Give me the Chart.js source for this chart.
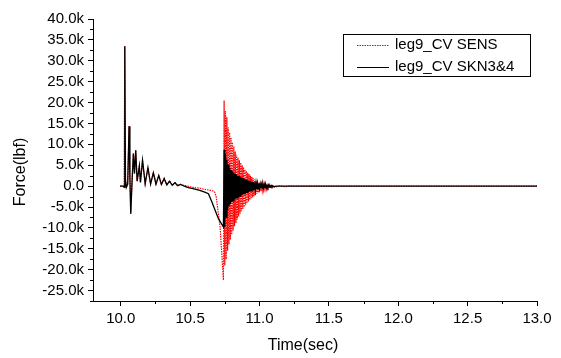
<!DOCTYPE html>
<html>
<head>
<meta charset="utf-8">
<script src="https://cdn.jsdelivr.net/npm/chart.js@4.4.1/dist/chart.umd.min.js"></script>
<style>
  html, body { margin: 0; padding: 0; background: #fff; }
  #wrap { width: 561px; height: 358px; }
</style>
</head>
<body>
<div id="wrap"><canvas id="c" width="561" height="358"></canvas></div>
<script>
// ---- data (Force in lbf, Time in sec) ----
const earlyTime  = [9.995, 10.020, 10.024, 10.029, 10.034, 10.040, 10.050, 10.060, 10.066, 10.072, 10.082, 10.091, 10.099, 10.108, 10.118, 10.134, 10.142, 10.157, 10.176, 10.196, 10.215, 10.235, 10.254, 10.274, 10.293, 10.313, 10.332, 10.352, 10.371, 10.391, 10.410, 10.430];
const earlyForce = [0, 0, -300, 33500, 1500, -300, 500, 14300, 2000, -6600, 1500, 7800, 3000, 8600, 1200, 4800, 900, 6200, 600, 4400, 500, 3200, 500, 2500, 400, 1800, 300, 1200, 200, 800, 100, 400];

const senseLateTime  = [10.45, 10.48, 10.52, 10.57, 10.61, 10.645, 10.668, 10.678, 10.688, 10.716, 10.740];
const senseLateForce = [200, 0, -300, -500, -800, -1000, -1200, -1500, -2600, -9800, -22500];
const skinLateTime   = [10.45, 10.48, 10.52, 10.57, 10.61, 10.632, 10.657, 10.68, 10.704, 10.740];
const skinLateForce  = [100, -300, -600, -1000, -1500, -1800, -3800, -5800, -7800, -9800];

const ringTime = [10.745,10.750,10.755,10.760,10.765,10.770,10.775,10.780,10.785,10.790,10.795,
  10.800,10.805,10.810,10.815,10.820,10.825,10.830,10.835,10.840,10.845,10.850,10.855,10.860,10.865,10.870,10.875,10.880,10.885,10.890,10.895,
  10.900,10.905,10.910,10.915,10.920,10.925,10.930,10.935,10.940,10.945,10.950,10.955,10.960,10.965,10.970,10.975,10.980,10.985,10.990,10.995,
  11.000,11.005,11.010,11.015,11.020,11.025,11.030,11.035,11.040,11.045,11.050,11.055,11.060,11.065,11.070,11.075,11.080,11.085,11.090,11.095,
  11.100];
const senseRing = [20500,-19000,18000,-17500,16500,-15500,14000,-14000,12800,-12800,11500,-11600,10500,-10600,9500,-9600,
  8300,-8800,7500,-8000,6800,-7300,6200,-6600,5600,-6000,5000,-5500,4500,-5000,4000,-4600,3600,-4100,3200,-3700,
  2900,-3300,2500,-3000,2200,-2700,1900,-2400,1600,-2100,1300,-1800,1100,-1600,900,-1400,800,-1200,600,-1000,
  500,-900,400,-800,300,-700,250,-600,200,-500,150,-400,100,-350,50,-300];
const skinRing = [8700,-9800,7600,-7400,6300,-5800,5200,-4900,4400,-4300,3900,-3800,3500,-3500,3200,-3200,
  2900,-3000,2700,-2800,2500,-2600,2400,-2400,2200,-2200,2000,-2000,1850,-1850,1700,-1700,1550,-1550,1400,-1400,
  1300,-1300,1150,-1150,1050,-1050,950,-950,850,-850,750,-750,650,-650,600,-600,500,-520,450,-460,
  380,-400,330,-350,280,-300,230,-250,190,-210,150,-170,120,-130,90,-100];

const tailTime       = [11.12, 11.15, 11.18, 11.22, 11.25, 13.0];
const senseTailForce = [-200, 100, -150, 50, 0, 0];
const skinTailForce  = [0, 0, 0, 0, 0, 0];

const xMajorTicks = [10.0, 10.5, 11.0, 11.5, 12.0, 12.5, 13.0];
const xMinorTicks = [10.25, 10.75, 11.25, 11.75, 12.25, 12.75];
const yMajorTicks = [-25000, -20000, -15000, -10000, -5000, 0, 5000, 10000, 15000, 20000, 25000, 30000, 35000, 40000];
const yMinorTicks = [-27500, -22500, -17500, -12500, -7500, -2500, 2500, 7500, 12500, 17500, 22500, 27500, 32500, 37500];

const seriesNames = ['leg9_CV SENS', 'leg9_CV SKN3&4'];
const xTitle = 'Time(sec)';
const yTitle = 'Force(lbf)';

// ---- build points ----
function pts(t, v) { return t.map((x, i) => ({ x: x, y: v[i] })); }
const sensePts = [].concat(pts(earlyTime, earlyForce), pts(senseLateTime, senseLateForce), pts(ringTime, senseRing), pts(tailTime, senseTailForce));
const skinPts  = [].concat(pts(earlyTime, earlyForce), pts(skinLateTime, skinLateForce), pts(ringTime, skinRing), pts(tailTime, skinTailForce));

const FONT = '"Liberation Sans", Arial, sans-serif';

function fmtK(v) {
  if (v === 0) return '0.0';
  return (v / 1000).toFixed(1) + 'k';
}

const decor = {
  id: 'decor',
  afterDraw(chart) {
    const ctx = chart.ctx;
    const xs = chart.scales.x, ys = chart.scales.y;
    const a = chart.chartArea;
    ctx.save();
    ctx.strokeStyle = '#000';
    ctx.lineWidth = 1;
    // minor ticks
    ctx.beginPath();
    xMinorTicks.forEach(v => {
      const px = Math.round(xs.getPixelForValue(v)) + 0.5;
      ctx.moveTo(px, a.bottom); ctx.lineTo(px, a.bottom + 3);
    });
    yMinorTicks.forEach(v => {
      const py = Math.round(ys.getPixelForValue(v)) + 0.5;
      ctx.moveTo(a.left, py); ctx.lineTo(a.left - 3, py);
    });
    ctx.stroke();

    // axis titles
    ctx.fillStyle = '#000';
    ctx.font = '16px ' + FONT;
    ctx.textAlign = 'center';
    ctx.textBaseline = 'middle';
    ctx.fillText(xTitle, 303, 346);
    ctx.save();
    ctx.translate(21, 172);
    ctx.rotate(-Math.PI / 2);
    ctx.fillText(yTitle, 0, 0);
    ctx.restore();

    // legend box
    ctx.fillStyle = '#fff';
    ctx.fillRect(343, 34, 187, 42);
    ctx.strokeStyle = '#000';
    ctx.lineWidth = 1;
    ctx.strokeRect(343.5, 34.5, 187, 42);
    // red dotted sample
    ctx.strokeStyle = '#ff0000';
    ctx.setLineDash([1.5, 1]);
    ctx.beginPath(); ctx.moveTo(357, 45.5); ctx.lineTo(389, 45.5); ctx.stroke();
    ctx.setLineDash([]);
    ctx.strokeStyle = '#000';
    ctx.beginPath(); ctx.moveTo(357, 67.5); ctx.lineTo(389, 67.5); ctx.stroke();
    ctx.fillStyle = '#000';
    ctx.font = '15px ' + FONT;
    ctx.textAlign = 'left';
    ctx.textBaseline = 'middle';
    ctx.fillText(seriesNames[0], 395, 45);
    ctx.fillText(seriesNames[1], 395, 67);
    ctx.restore();
  }
};

new Chart(document.getElementById('c'), {
  type: 'line',
  data: {
    datasets: [
      { label: seriesNames[1], data: skinPts, borderColor: '#000000', borderWidth: 1.3, pointRadius: 0, tension: 0, fill: false },
      { label: seriesNames[0], data: sensePts, borderColor: '#ff0000', borderWidth: 1.2, borderDash: [1.5, 1], pointRadius: 0, tension: 0, fill: false }
    ]
  },
  options: {
    responsive: false,
    animation: false,
    events: [],
    layout: { padding: { top: 19, right: 24, left: 0, bottom: 0 } },
    plugins: { legend: { display: false }, tooltip: { enabled: false }, title: { display: false } },
    scales: {
      x: {
        type: 'linear', min: 9.8, max: 13.0,
        afterBuildTicks(s) { s.ticks = xMajorTicks.map(v => ({ value: v })); },
        afterFit(s) { s.height = 57; },
        border: { display: true, color: '#000', width: 1 },
        grid: { display: true, drawOnChartArea: false, drawTicks: true, tickLength: 5, tickColor: '#000' },
        ticks: { color: '#000', font: { family: FONT, size: 15 }, padding: 4, maxRotation: 0, autoSkip: false,
                 callback: v => Number(v).toFixed(1) }
      },
      y: {
        type: 'linear', min: -27500, max: 40000,
        afterBuildTicks(s) { s.ticks = yMajorTicks.map(v => ({ value: v })); },
        afterFit(s) { s.width = 93; },
        border: { display: true, color: '#000', width: 1 },
        grid: { display: true, drawOnChartArea: false, drawTicks: true, tickLength: 5, tickColor: '#000' },
        ticks: { color: '#000', font: { family: FONT, size: 15 }, padding: 4, autoSkip: false,
                 callback: v => fmtK(v) }
      }
    }
  },
  plugins: [decor]
});
</script>
</body>
</html>
